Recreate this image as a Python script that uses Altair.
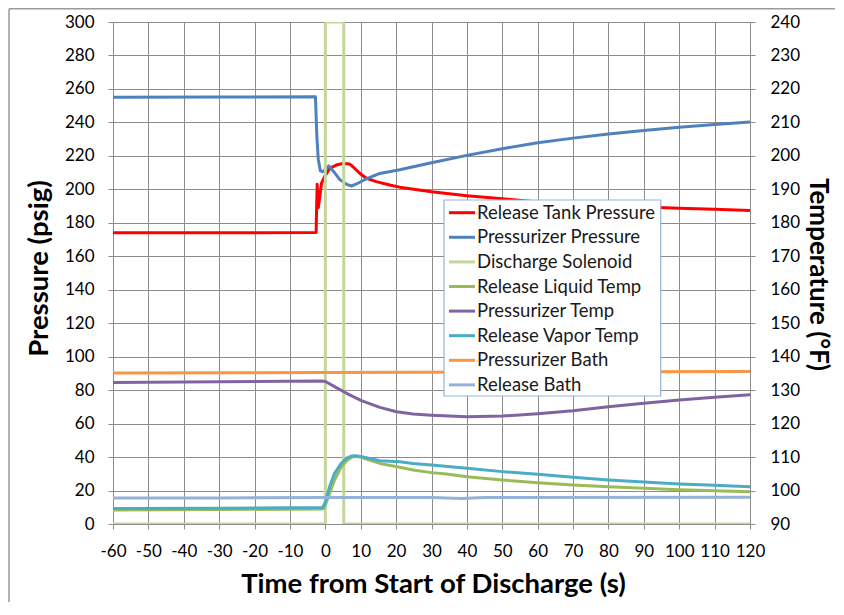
import altair as alt
import pandas as pd

# ---------------- data ----------------
SERIES = ["Release Tank Pressure", "Pressurizer Pressure", "Discharge Solenoid",
          "Release Liquid Temp", "Pressurizer Temp", "Release Vapor Temp",
          "Pressurizer Bath", "Release Bath"]
COLORS = ["#FF0000", "#4F81BD", "#C3D69B", "#9BBB59", "#8064A2", "#4BACC6",
          "#F79646", "#95B3D7"]

# pressures (psig, left axis)
tank_t = [-60, -30, -2.6, -2.5, -2.3, -2.0, -1.6, -1.1, -0.2, 1.2, 3.1, 5.0, 6.9, 7.8,
          9.7, 11.6, 14.4, 18.2, 21, 30, 40, 50, 60, 70, 80, 90, 100, 110, 120]
tank_p = [174.0, 174.0, 174.2, 186, 203, 189, 195, 203.5, 207.6, 212.5, 214.5, 215.4, 215.1, 213.5,
          209.6, 206.6, 204.6, 202.6, 201.3, 198.6, 196.2, 194.4, 192.5, 191.2, 190.2, 189.4, 188.7, 188.1, 187.4]

prz_t = [-60, -30, -2.8, -2.4, -2.0, -1.4, -0.7, 1.0, 2.2, 4.1, 6.0, 7.4, 8.8, 11.6, 15.4,
         21, 30, 40, 50, 60, 70, 80, 90, 100, 110, 120]
prz_p = [255.0, 255.2, 255.3, 232, 218, 211, 210.5, 214, 211, 205.8, 203, 202, 203.2, 206.3, 209.5,
         211.7, 215.9, 220.3, 224.3, 227.8, 230.6, 233.1, 235.2, 237.1, 238.8, 240.2]

sol_t = [-60, 0, 0, 5.2, 5.2, 120]
sol_p = [0, 0, 300, 300, 0, 0]

# temperatures (degF, right axis)
liq_t = [-60, -30, -1, -0.5, 0.3, 1.2, 2.6, 4.5, 6, 7.4, 8.5, 10, 12, 15.4, 21, 24.8, 30, 34.2,
         40, 50, 60, 70, 80, 90, 100, 110, 120]
liq_T = [94.15, 94.3, 94.5, 94.6, 96.5, 99.15, 103.15, 107.1, 108.9, 109.9, 110.2, 110.0, 109.25,
         108.1, 106.95, 106.15, 105.35, 104.95, 104.15, 103.15, 102.35, 101.65, 101.15, 100.65,
         100.25, 99.95, 99.65]

przT_t = [-60, -30, -1, 0, 2.6, 6, 10.2, 15.4, 20.1, 24.8, 30, 40, 50, 60, 70, 80, 90, 100, 110, 120]
przT_T = [132.3, 132.5, 132.7, 132.6, 131.05, 129.05, 126.85, 124.85, 123.55, 122.85, 122.5,
          122.05, 122.25, 122.95, 123.85, 125.05, 126.05, 127.05, 127.85, 128.65]

vap_t = [-60, -30, -0.8, 0, 1.2, 2.6, 4.5, 6, 7.4, 8.5, 10, 15.4, 21, 24.8, 30, 40, 50, 60, 70,
         80, 90, 100, 110, 120]
vap_T = [94.6, 94.7, 94.9, 96.5, 101.15, 105.15, 108.15, 109.65, 110.3, 110.4, 110.15, 108.9,
         108.6, 108.1, 107.65, 106.65, 105.65, 104.85, 103.95, 103.15, 102.55, 101.95, 101.55, 101.15]

pbath_t = [-60, 0, 60, 120]
pbath_T = [135.1, 135.25, 135.45, 135.6]

rbath_t = [-60, -30, 0, 30, 38.5, 45, 120]
rbath_T = [97.8, 97.8, 97.9, 97.95, 97.6, 97.95, 98.0]


def frame(name, ts, vs):
    return pd.DataFrame({"t": ts, "value": vs, "series": name, "i": range(len(ts))})


pdf = pd.concat([frame(SERIES[0], tank_t, tank_p),
                 frame(SERIES[1], prz_t, prz_p),
                 frame(SERIES[2], sol_t, sol_p)], ignore_index=True)
tdf = pd.concat([frame(SERIES[3], liq_t, liq_T),
                 frame(SERIES[4], przT_t, przT_T),
                 frame(SERIES[5], vap_t, vap_T),
                 frame(SERIES[6], pbath_t, pbath_T),
                 frame(SERIES[7], rbath_t, rbath_T)], ignore_index=True)
leg_df = pd.DataFrame({"series": SERIES, "k": range(len(SERIES))})

FONT = "Lato"
GRID = "#8C8C8C"
TITLE_SIZE = 27.5

color_scale = alt.Scale(domain=SERIES, range=COLORS)

x_enc = alt.X("t:Q", scale=alt.Scale(domain=[-60, 120], nice=False, zero=False),
              axis=alt.Axis(values=list(range(-60, 121, 10)), title="Time from Start of Discharge (s)",
                            labelExpr="'' + datum.value",
                            grid=True, gridColor=GRID, gridWidth=1, gridOpacity=1,
                            tickColor=GRID, tickSize=5, domainColor=GRID,
                            labelFont=FONT, labelFontSize=17, labelColor="#000000",
                            labelPadding=14, labelOverlap=False, labelFlush=False,
                            titleFont=FONT, titleFontSize=TITLE_SIZE, titleFontWeight="bold",
                            titleColor="#000000", titleX=320, titleY=60.5,
                            titleBaseline="middle", titleAlign="center"))

left = alt.Chart(pdf).mark_line(clip=True, strokeJoin="round").encode(
    x=x_enc,
    y=alt.Y("value:Q", scale=alt.Scale(domain=[0, 300], nice=False),
            axis=alt.Axis(values=list(range(0, 301, 20)), title="Pressure (psig)",
                          grid=True, gridColor=GRID, gridWidth=1, gridOpacity=1,
                          tickColor=GRID, tickSize=5, domainColor=GRID,
                          labelFont=FONT, labelFontSize=17, labelColor="#000000",
                          labelPadding=14,
                          titleFont=FONT, titleFontSize=TITLE_SIZE, titleFontWeight="bold",
                          titleColor="#000000", titleAngle=270, titleX=-74, titleY=246,
                          titleAlign="center", titleBaseline="middle")),
    color=alt.Color("series:N", scale=color_scale, legend=None),
    strokeWidth=alt.StrokeWidth("series:N",
                                scale=alt.Scale(domain=SERIES[:3], range=[3, 3, 2.5]),
                                legend=None),
    order=alt.Order("i:Q"),
)

right = alt.Chart(tdf).mark_line(clip=True, strokeWidth=3, strokeJoin="round").encode(
    x=x_enc,
    y=alt.Y("value:Q", scale=alt.Scale(domain=[90, 240], nice=False, zero=False),
            axis=alt.Axis(orient="right", values=list(range(90, 241, 10)),
                          title="Temperature (°F)", grid=False,
                          tickColor=GRID, tickSize=5, domainColor=GRID,
                          labelFont=FONT, labelFontSize=17, labelColor="#000000",
                          labelPadding=15,
                          titleFont=FONT, titleFontSize=26, titleFontWeight="bold",
                          titleColor="#000000", titleAngle=90, titleX=67, titleY=252,
                          titleAlign="center", titleBaseline="middle")),
    color=alt.Color("series:N", scale=color_scale, legend=None),
    order=alt.Order("i:Q"),
)

# ---------------- legend box ----------------
leg_y = alt.Y("k:Q", scale=alt.Scale(domain=[0, 7], range=[190.7, 362.9]), axis=None)
leg_box = alt.Chart(pd.DataFrame({"a": [0]})).mark_rect(
    fill="white", stroke="#95B3D7", strokeWidth=1.2).encode(
    x=alt.value(331), x2=alt.value(547.7), y=alt.value(178), y2=alt.value(374))
leg_lines = alt.Chart(leg_df).mark_rule(strokeWidth=3).encode(
    x=alt.value(336), x2=alt.value(362), y=leg_y,
    color=alt.Color("series:N", scale=color_scale, legend=None))
leg_text = alt.Chart(leg_df).mark_text(
    align="left", baseline="middle", font=FONT, fontSize=18.5, color="#1A1A1A").encode(
    x=alt.value(364), y=leg_y, text="series:N")

# chart-area frame (top and left edges)
frame_top = alt.Chart(pd.DataFrame({"a": [0]})).mark_rule(color="#9A9A9A", strokeWidth=1.5).encode(
    x=alt.value(-104), x2=alt.value(722), y=alt.value(-13.3))
frame_left = alt.Chart(pd.DataFrame({"a": [0]})).mark_rule(color="#9A9A9A", strokeWidth=1.5).encode(
    x=alt.value(-104), y=alt.value(-13.3), y2=alt.value(585))

chart = alt.layer(left, right, leg_box, leg_lines, leg_text, frame_top, frame_left).resolve_scale(
    y="independent", strokeWidth="independent"
).properties(
    width=637, height=502, autosize="none",
    padding={"left": 105, "top": 14, "right": 86, "bottom": 78},
).configure_view(stroke=None).configure(background="white")

chart.save("out.html", embed_options={"renderer": "svg", "actions": False})
